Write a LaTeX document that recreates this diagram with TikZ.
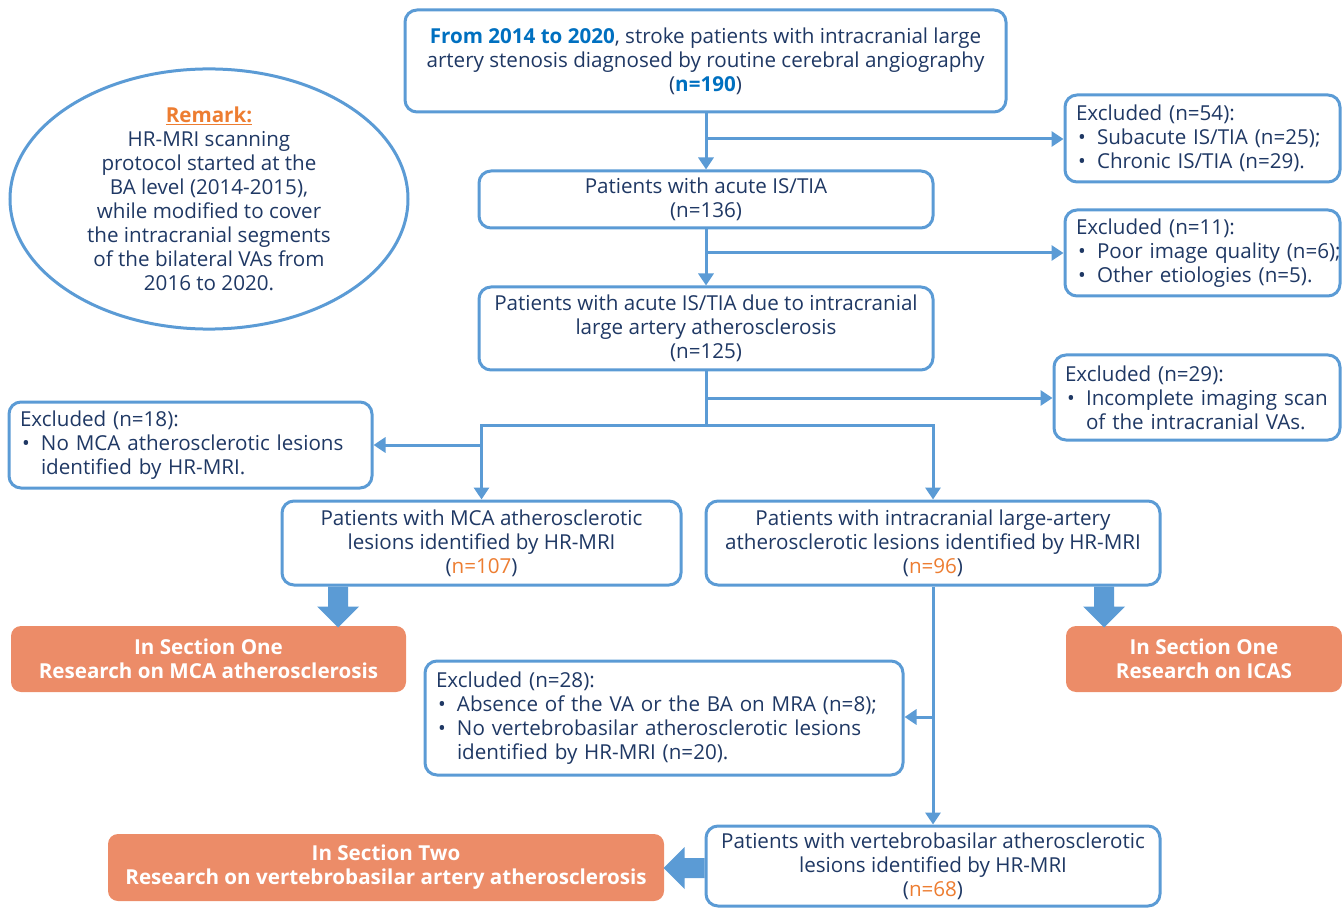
\documentclass[tikz,border=0pt]{standalone}
\usepackage{fontspec}
\setmainfont{Open Sans}
\usetikzlibrary{arrows.meta,shapes.geometric}
\definecolor{bc}{HTML}{5B9BD5}
\definecolor{tc}{HTML}{1F3864}
\definecolor{oc}{HTML}{ED7D31}
\definecolor{of}{HTML}{EC8C68}
\definecolor{hb}{HTML}{0070C0}
\newcommand\myfs{\fontsize{20.6}{24}\selectfont}
\newcommand\bul{\makebox[21pt][l]{\hspace{2pt}•}}
\newcommand\ind{\hspace*{21pt}}
\begin{document}
\begin{tikzpicture}[x=1pt,y=-1pt,
  box/.style={draw=bc,line width=3pt,rounded corners=12pt,fill=white,text=tc,align=center,inner sep=0pt,font=\myfs},
  exbox/.style={box,align=left,inner xsep=11pt},
  obox/.style={fill=of,rounded corners=10pt,text=white,align=center,inner sep=0pt,font=\myfs\bfseries},
  conn/.style={draw=bc,line width=3pt},
  arr/.style={conn,-{Triangle[length=12pt,width=15pt]}},
  blk/.style={fill=bc}]
\useasboundingbox (0,0) rectangle (1342,909);

% boxes
\node[box,minimum width=601,minimum height=102] (top) at (705.5,61)
  {\textbf{\color{hb}From 2014 to 2020}, stroke patients with intracranial large\\artery stenosis diagnosed by routine cerebral angiography\\(\textbf{\color{hb}n=190})};
\node[draw=bc,line width=3pt,ellipse,minimum width=398,minimum height=226,inner sep=0pt,text=tc,align=center,font=\myfs] (rem) at (209,199)
  {{\bfseries\color{oc}\underline{Remark:}}\\HR-MRI scanning\\protocol started at the\\BA level (2014-2015),\\while modified to cover\\the intracranial segments\\of the bilateral VAs from\\2016 to 2020.};
\node[exbox,minimum width=275,minimum height=87,text width=253] (ex54) at (1202.5,138.5)
  {Excluded (n=54):\\\bul Subacute IS/TIA (n=25);\\\bul Chronic IS/TIA (n=29).};
\node[box,minimum width=454,minimum height=57] (acute) at (706,199.5)
  {Patients with acute IS/TIA\\(n=136)};
\node[exbox,minimum width=275,minimum height=86,text width=253] (ex11) at (1202.5,253)
  {Excluded (n=11):\\\bul\mbox{Poor image quality (n=6);}\\\bul Other etiologies (n=5).};
\node[box,minimum width=454,minimum height=83] (due) at (706,328.5)
  {Patients with acute IS/TIA due to intracranial\\large artery atherosclerosis\\(n=125)};
\node[exbox,minimum width=286,minimum height=85,text width=264] (ex29) at (1197,397.5)
  {Excluded (n=29):\\\bul Incomplete imaging scan\\\ind of the intracranial VAs.};
\node[exbox,minimum width=363,minimum height=86,text width=341] (ex18) at (190.5,445)
  {Excluded (n=18):\\\bul No MCA atherosclerotic lesions\\\ind identified by HR-MRI.};
\node[box,minimum width=399,minimum height=84] (mca) at (481.5,543)
  {Patients with MCA atherosclerotic\\lesions identified by HR-MRI\\({\color{oc}n=107})};
\node[box,minimum width=454,minimum height=84] (icas) at (933,543)
  {Patients with intracranial large-artery\\atherosclerotic lesions identified by HR-MRI\\({\color{oc}n=96})};
\node[obox,minimum width=395,minimum height=66] (o1) at (208.5,659)
  {In Section One\\Research on MCA atherosclerosis};
\node[obox,minimum width=276,minimum height=66] (o2) at (1204,659)
  {In Section One\\Research on ICAS};
\node[exbox,minimum width=478,minimum height=114,text width=456] (ex28) at (664,718)
  {Excluded (n=28):\\\bul Absence of the VA or the BA on MRA (n=8);\\\bul No vertebrobasilar atherosclerotic lesions\\\ind identified by HR-MRI (n=20).};
\node[box,minimum width=454,minimum height=80] (vb) at (933,866)
  {Patients with vertebrobasilar atherosclerotic\\lesions identified by HR-MRI\\({\color{oc}n=68})};
\node[obox,minimum width=556,minimum height=67] (o3) at (386,867.5)
  {In Section Two\\Research on vertebrobasilar artery atherosclerosis};

% connectors
\coordinate (b1) at (706,139);
\coordinate (b2) at (706,253);
\coordinate (b3) at (706,398);
\coordinate (j) at (706,425);
\coordinate (b4) at (481.5,445);
\coordinate (b5) at (933,717);
\draw[arr] (top.south -| acute.north) -- (acute.north);
\draw[arr] (b1) -- (ex54.west |- b1);
\draw[arr] (acute.south) -- (due.north);
\draw[arr] (b2) -- (ex11.west |- b2);
\draw[conn] (due.south) -- (j);
\draw[arr] (b3) -- (ex29.west |- b3);
\draw[conn,line cap=rect] (mca.north |- j) -- (icas.north |- j);
\draw[arr] (mca.north |- j) -- (mca.north);
\draw[arr] (icas.north |- j) -- (icas.north);
\draw[arr] (b4) -- (ex18.east |- b4);
\draw[arr] (icas.south) -- (vb.north);
\draw[arr] (b5) -- (ex28.east |- b5);

% block arrows
\coordinate (k1) at (mca.south -| 338,0);
\coordinate (k2) at (icas.south -| 1104,0);
\coordinate (k3) at (vb.west |- 0,868);
\fill[blk] (k1) ++(-10,0) -- ++(0,20) -- ++(-11,0) -- ++(21,21) -- ++(21,-21) -- ++(-11,0) -- ++(0,-20) -- cycle;
\fill[blk] (k2) ++(-10,0) -- ++(0,20) -- ++(-11,0) -- ++(21,21) -- ++(21,-21) -- ++(-11,0) -- ++(0,-20) -- cycle;
\fill[blk] (k3) ++(0,-10) -- ++(-20,0) -- ++(0,-11) -- ++(-21,21) -- ++(21,21) -- ++(0,-11) -- ++(20,0) -- cycle;
\end{tikzpicture}
\end{document}
